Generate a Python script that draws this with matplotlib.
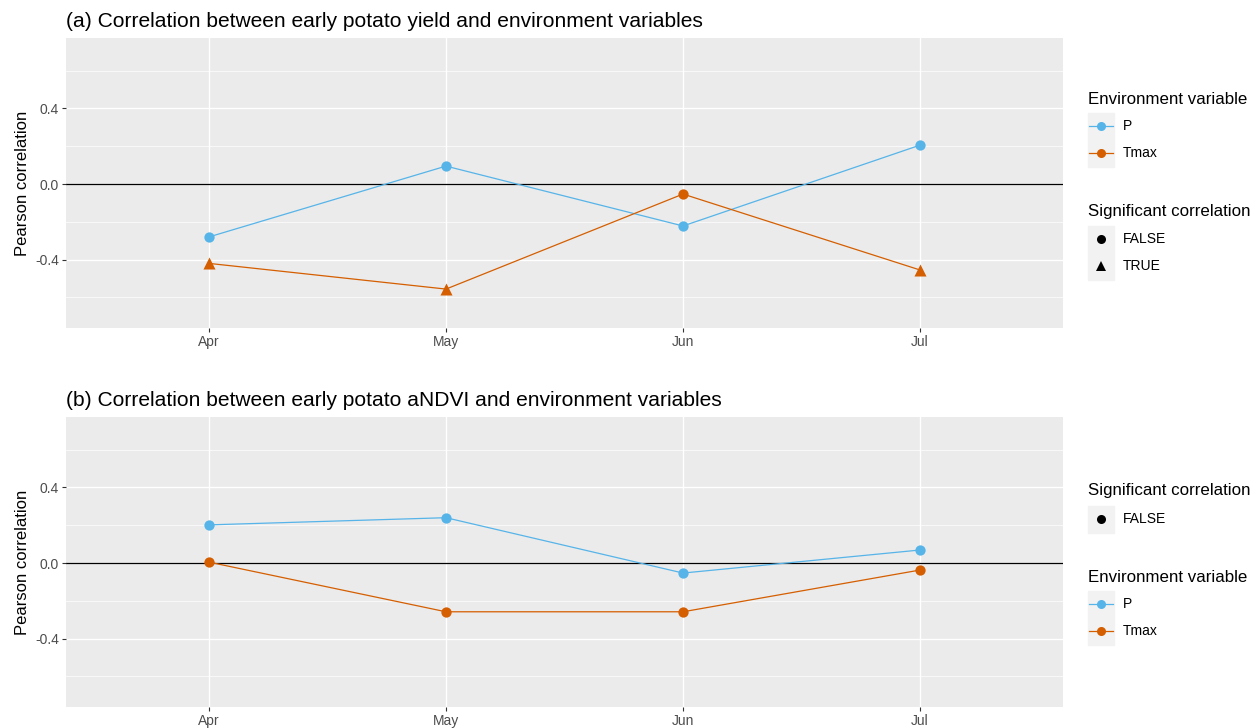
import matplotlib.pyplot as plt
from matplotlib.lines import Line2D
from matplotlib.patches import Rectangle

plt.rcParams['font.family'] = ['Liberation Sans', 'DejaVu Sans']

# ---------- DATA ----------
months = ['Apr', 'May', 'Jun', 'Jul']

# (a) yield
yield_P = [-0.28, 0.095, -0.222, 0.206]
yield_Tmax = [-0.42, -0.556, -0.053, -0.455]
yield_P_sig = [False, False, False, False]
yield_Tmax_sig = [True, True, False, True]

# (b) aNDVI
ndvi_P = [0.202, 0.24, -0.053, 0.069]
ndvi_Tmax = [0.005, -0.258, -0.258, -0.037]
ndvi_P_sig = [False, False, False, False]
ndvi_Tmax_sig = [False, False, False, False]

titles = ['(a) Correlation between early potato yield and environment variables',
          '(b) Correlation between early potato aNDVI and environment variables']

col_P = '#56B4E9'
col_T = '#D55E00'
bg = '#EBEBEB'

W, H = 1258, 728
fig = plt.figure(figsize=(W / 100, H / 100), dpi=100)


def px_ax(x0, y0, x1, y1):
    return fig.add_axes([x0 / W, 1 - y1 / H, (x1 - x0) / W, (y1 - y0) / H])


def draw_panel(ax, P, T, Psig, Tsig, title):
    ax.set_facecolor(bg)
    x = list(range(len(months)))
    for y in [-0.6, -0.2, 0.2, 0.6]:
        ax.axhline(y, color='white', lw=0.5, zorder=0)
    for y in [-0.4, 0.0, 0.4]:
        ax.axhline(y, color='white', lw=1.0, zorder=0)
    for xi in x:
        ax.axvline(xi, color='white', lw=1.0, zorder=0)
    ax.axhline(0, color='black', lw=0.9, zorder=1)
    for vals, sig, col in [(P, Psig, col_P), (T, Tsig, col_T)]:
        ax.plot(x, vals, color=col, lw=0.9, zorder=2)
        xs_c = [xi for xi, s in zip(x, sig) if not s]
        ys_c = [v for v, s in zip(vals, sig) if not s]
        xs_t = [xi for xi, s in zip(x, sig) if s]
        ys_t = [v for v, s in zip(vals, sig) if s]
        ax.scatter(xs_c, ys_c, s=55, marker='o', color=col, zorder=3, linewidths=0)
        ax.scatter(xs_t, ys_t, s=75, marker='^', color=col, zorder=3, linewidths=0)
    ax.set_xlim(-0.603, 3.603)
    ax.set_ylim(-0.762, 0.773)
    ax.set_xticks(x)
    ax.set_xticklabels(months)
    ax.set_yticks([-0.4, 0.0, 0.4])
    ax.set_yticklabels(['-0.4', '0.0', '0.4'])
    ax.tick_params(colors='#333333', labelcolor='#4D4D4D', labelsize=10, length=3, width=0.8, pad=2)
    for s in ax.spines.values():
        s.set_visible(False)
    ax.set_ylabel('Pearson correlation', fontsize=12, labelpad=4)
    ax.set_title(title, loc='left', fontsize=15.1, pad=8)


ax1 = px_ax(66, 38, 1063, 328)
draw_panel(ax1, yield_P, yield_Tmax, yield_P_sig, yield_Tmax_sig, titles[0])
ax2 = px_ax(66, 417, 1063, 707)
draw_panel(ax2, ndvi_P, ndvi_Tmax, ndvi_P_sig, ndvi_Tmax_sig, titles[1])


# ---------- LEGENDS (drawn by hand, ggplot style) ----------
def legend_block(title, y_title, entries):
    fig.text(1088 / W, 1 - y_title / H, title, fontsize=12.2, va='center', ha='left')
    y0 = entries[0][0] - 13.5
    y1 = entries[-1][0] + 13.5
    fig.patches.append(Rectangle((1088 / W, 1 - y1 / H), 26 / W, (y1 - y0) / H,
                                 transform=fig.transFigure, color='#F2F2F2', zorder=0))
    for yk, label, kind, col in entries:
        yf = 1 - yk / H
        if kind == 'line':
            fig.lines.append(Line2D([1089 / W, 1113 / W], [yf, yf], color=col, lw=0.9,
                                    transform=fig.transFigure))
            fig.lines.append(Line2D([1101 / W], [yf], marker='o', markersize=6.5, color=col,
                                    markeredgewidth=0, transform=fig.transFigure))
        else:
            fig.lines.append(Line2D([1101 / W], [yf], marker=kind, markersize=6.5 if kind == 'o' else 7.5,
                                    color='black', markeredgewidth=0, transform=fig.transFigure))
        fig.text(1123 / W, yf, label, fontsize=10, va='center', ha='left')


legend_block('Environment variable', 99, [(126, 'P', 'line', col_P), (153, 'Tmax', 'line', col_T)])
legend_block('Significant correlation', 211, [(239, 'FALSE', 'o', 'k'), (266, 'TRUE', '^', 'k')])
legend_block('Significant correlation', 490, [(519, 'FALSE', 'o', 'k')])
legend_block('Environment variable', 578, [(604, 'P', 'line', col_P), (631, 'Tmax', 'line', col_T)])

fig.savefig('out.png', dpi=100)
